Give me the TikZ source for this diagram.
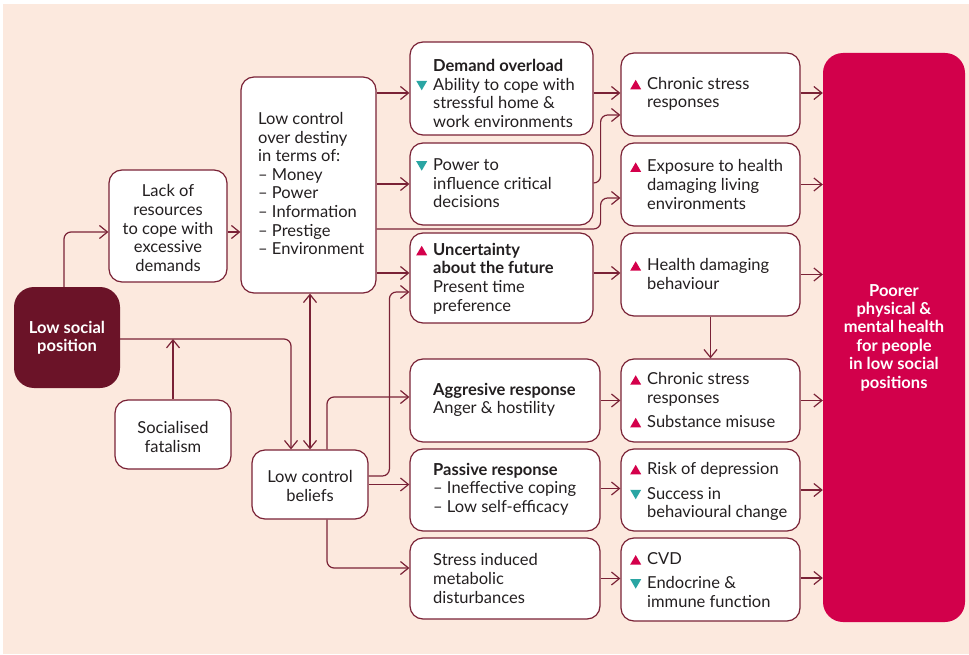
\documentclass[tikz,border=0pt]{standalone}
\usepackage{fontspec}
\setmainfont{Lato}
\usetikzlibrary{arrows.meta}
\definecolor{bgpeach}{HTML}{FCE9DE}
\definecolor{lc}{HTML}{7A2236}
\definecolor{darkbox}{HTML}{6B1328}
\definecolor{bigred}{HTML}{D2004B}
\definecolor{trired}{HTML}{D4004B}
\definecolor{triteal}{HTML}{2AA5A3}
\definecolor{txt}{HTML}{231F20}
\newcommand\upm{\llap{\tikz[baseline=0pt]\fill[trired] (0pt,0pt) -- (11pt,0pt) -- (5.5pt,9.5pt) -- cycle;\hspace{6pt}}}
\newcommand\dnm{\llap{\tikz[baseline=0pt]\fill[triteal] (0pt,9.5pt) -- (11pt,9.5pt) -- (5.5pt,0pt) -- cycle;\hspace{6pt}}}
\begin{document}
\begin{tikzpicture}[x=1pt,y=-1pt,
  box/.style={draw=lc, line width=1.2pt, fill=white, rounded corners=13pt, inner sep=0pt},
  bigbox/.style={fill=#1, rounded corners=20pt, inner sep=0pt},
  tx/.style={text=txt, font=\fontsize{16.5}{18.6}\selectfont, inner sep=0pt, align=left, anchor=west},
  ctx/.style={text=txt, font=\fontsize{16.5}{18.6}\selectfont, align=center},
  wtx/.style={text=white, font=\bfseries\fontsize{16.5}{18.4}\selectfont, align=center, inner sep=0pt},
  arr/.style={draw=lc, line width=1.2pt, rounded corners=7pt, -{Straight Barb[length=8pt,width=13pt,line width=1.2pt]}},
  ln/.style={draw=lc, line width=1.2pt, rounded corners=7pt}
]
\useasboundingbox (0,0) rectangle (969,655);
\fill[white] (0,0) rectangle (969,655);
\fill[bgpeach] (3,4) rectangle (969,654);

% boxes
\node[bigbox=darkbox, minimum width=106pt, minimum height=101pt] (lsp) at (67,337.5) {};
\node[wtx] (lspt) at (67,338) {Low social\\position};
\node[box, minimum width=118pt, minimum height=112pt] (lack) at (168,226) {};
\node[ctx] (lackt) at (168,228) {Lack of\\resources\\to cope with\\excessive\\demands};
\node[box, minimum width=135pt, minimum height=216pt] (dest) at (308.5,185) {};
\node[tx] (destt) at (258,183.5) {Low control\\over destiny\\in terms of:\\– Money\\– Power\\– Information\\– Prestige\\– Environment};
\node[box, minimum width=116pt, minimum height=69pt] (sf) at (173,434.5) {};
\node[ctx] (sft) at (173,437) {Socialised\\fatalism};
\node[box, minimum width=116pt, minimum height=69pt] (lcb) at (310,484.5) {};
\node[ctx] (lcbt) at (310,486) {Low control\\beliefs};

\node[box, minimum width=183pt, minimum height=93pt] (dem) at (501.5,88.5) {};
\node[tx] (demt) at (433,93.5) {\textbf{Demand overload}\\\dnm Ability to cope with\\stressful home \&\\work environments};
\node[box, minimum width=183pt, minimum height=82pt] (pow) at (501.5,184) {};
\node[tx] (powt) at (433,183.5) {\dnm Power to\\influence critical\\decisions};
\node[box, minimum width=183pt, minimum height=90pt] (unc) at (501.5,278) {};
\node[tx] (unct) at (433,278.5) {\upm\textbf{Uncertainty}\\\textbf{about the future}\\Present time\\preference};
\node[box, minimum width=190pt, minimum height=83pt] (agg) at (505,400.5) {};
\node[tx] (aggt) at (433,400) {\textbf{Aggresive response}\\Anger \& hostility};
\node[box, minimum width=190pt, minimum height=82pt] (pas) at (505,490) {};
\node[tx] (past) at (433,489) {\textbf{Passive response}\\– Ineffective coping\\– Low self-efficacy};
\node[box, minimum width=190pt, minimum height=81pt] (str) at (505,578.5) {};
\node[tx] (strt) at (433,578.5) {Stress induced\\metabolic\\disturbances};

\node[box, minimum width=179pt, minimum height=83pt] (cs1) at (710.5,94.5) {};
\node[tx] (cs1t) at (647,94) {\upm Chronic stress\\responses};
\node[box, minimum width=179pt, minimum height=83pt] (exp) at (710.5,184.5) {};
\node[tx] (expt) at (647,184.5) {\upm Exposure to health\\damaging living\\environments};
\node[box, minimum width=179pt, minimum height=83pt] (hdb) at (710.5,274.5) {};
\node[tx] (hdbt) at (647,274) {\upm Health damaging\\behaviour};
\node[box, minimum width=179pt, minimum height=83pt] (cs2) at (710.5,400.5) {};
\node[tx] (cs2t) at (647,400) {\upm Chronic stress\\responses\\[5.4pt]\upm Substance misuse};
\node[box, minimum width=179pt, minimum height=82pt] (risk) at (710.5,490) {};
\node[tx] (riskt) at (647,491.5) {\upm Risk of depression\\[6.4pt]\dnm Success in\\behavioural change};
\node[box, minimum width=179pt, minimum height=83pt] (cvd) at (710.5,579.5) {};
\node[tx] (cvdt) at (647,580) {\upm CVD\\[5.5pt]\dnm Endocrine \&\\immune function};

\node[bigbox=bigred, minimum width=142pt, minimum height=569pt] (big) at (894,337.5) {};
\node[wtx] (bigt) at (894,337.5) {Poorer\\physical \&\\mental health\\for people\\in low social\\positions};

% junction columns
\coordinate (jx) at ([xshift=7pt]pow.east);
\coordinate (jl) at ([xshift=-20pt]unc.west);

% connectors
\draw[arr] ([xshift=-3pt]lsp.north) |- ([yshift=-6pt]lack.west);
\draw[arr] ([yshift=-6pt]lack.east) -- ([yshift=-6pt]lack.east -| dest.west);
\draw[arr] ([yshift=-1.5pt]lsp.east) -| ([xshift=-19pt]lcb.north);
\coordinate (sfj) at ([yshift=-1.5pt]lsp.east -| sf.north);
\draw[arr] (sf.north) -- (sfj);
\draw[ln, {Straight Barb[length=8pt,width=13pt,line width=1.2pt]}-{Straight Barb[length=8pt,width=13pt,line width=1.2pt]}] (lcb.north |- dest.south) -- (lcb.north);

\draw[arr] ([yshift=-4.5pt]dem.west -| dest.east) -- ([yshift=-4.5pt]dem.west);
\draw[arr] (pow.west -| dest.east) -- (pow.west);
\draw[arr] ([yshift=-45pt]pow.west -| dest.east) -| ([yshift=-13.5pt]jx |- exp.west) -- ([yshift=-13.5pt]exp.west);
\draw[arr] ([yshift=5pt]unc.west -| dest.east) -- ([yshift=5pt]unc.west);
\draw[arr] ([yshift=1pt]pow.east) -| ([yshift=-20.5pt]jx |- cs1.west) -- ([yshift=-20.5pt]cs1.west);
\draw[arr] ([yshift=1.5pt]cs1.west -| dem.east) -- ([yshift=1.5pt]cs1.west);
\draw[arr] ([yshift=5pt]unc.east) -- ([yshift=5pt]unc.east -| hdb.west);

\draw[arr] ([xshift=17pt]lcb.north) |- ([yshift=3.5pt]agg.west);
\draw[arr] ([yshift=8.5pt]lcb.east) -| ([yshift=-14pt]jl |- unc.west) -- ([yshift=-14pt]unc.west);
\draw[arr] (lcb.east) -- (lcb.east -| pas.west);
\draw[arr] ([xshift=17pt]lcb.south) |- ([yshift=10.5pt]str.west);

\draw[arr] (hdb.south) -- (cs2.north);
\draw[arr] (agg.east) -- (agg.east -| cs2.west);
\draw[arr] ([yshift=1.5pt]pas.east) -- ([yshift=1.5pt]pas.east -| risk.west);
\draw[arr] (str.east) -- (str.east -| cvd.west);

\draw[arr] ([yshift=1.5pt]cs1.east) -- ([yshift=1.5pt]cs1.east -| big.west);
\draw[arr] (exp.east) -- (exp.east -| big.west);
\draw[arr] (hdb.east) -- (hdb.east -| big.west);
\draw[arr] (cs2.east) -- (cs2.east -| big.west);
\draw[arr] (risk.east) -- (risk.east -| big.west);
\draw[arr] ([yshift=1.5pt]cvd.east) -- ([yshift=1.5pt]cvd.east -| big.west);
\end{tikzpicture}
\end{document}
